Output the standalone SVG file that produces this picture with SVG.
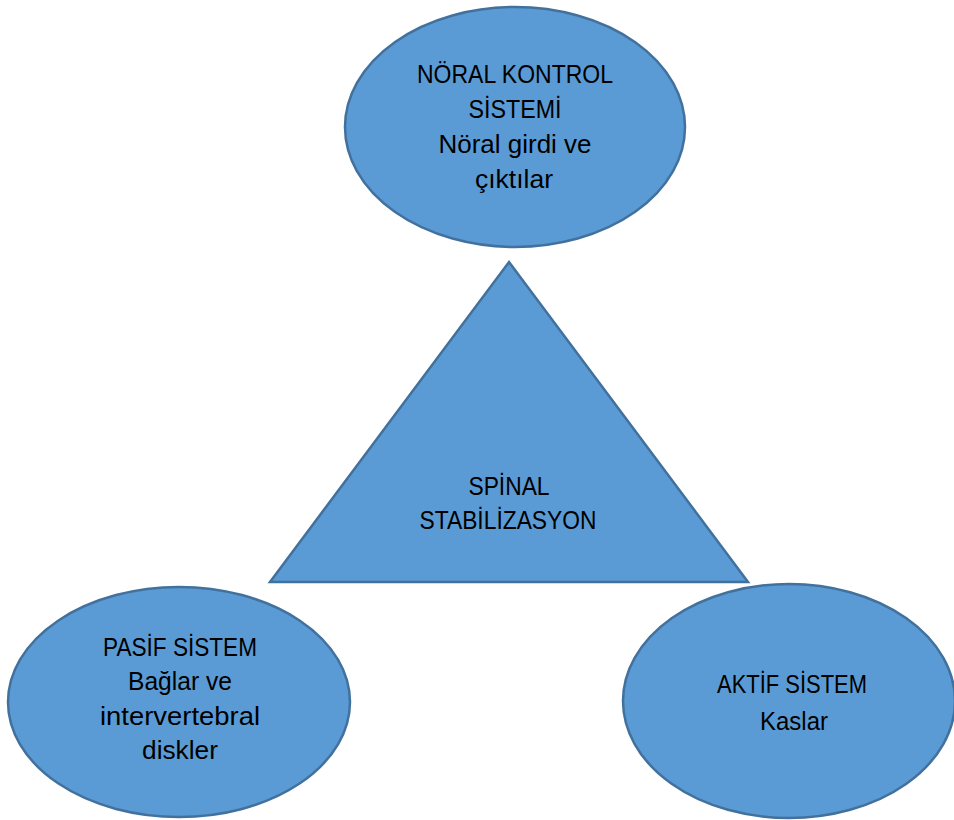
<svg xmlns="http://www.w3.org/2000/svg" width="954" height="820" viewBox="0 0 954 820">
<style>
.shape{fill:#5B9BD5;stroke:#41719C;stroke-width:2.5}
text{font-family:"Liberation Sans",Arial,sans-serif;font-size:25px;fill:#000;text-anchor:middle}
</style>
<rect width="954" height="820" fill="#fff"/>
<g id="connectors"></g>
<g id="noral">
<ellipse class="shape" cx="515" cy="127" rx="170" ry="120"/>
<text x="515" y="83" textLength="196" lengthAdjust="spacingAndGlyphs">NÖRAL KONTROL</text>
<text x="515" y="118" textLength="93" lengthAdjust="spacingAndGlyphs">SİSTEMİ</text>
<text x="515" y="153" textLength="153" lengthAdjust="spacingAndGlyphs">Nöral girdi ve</text>
<text x="514" y="188" textLength="78" lengthAdjust="spacingAndGlyphs">çıktılar</text>
</g>
<g id="spinal">
<polygon class="shape" points="509,262 748,582 270,582"/>
<text x="509" y="495" textLength="81" lengthAdjust="spacingAndGlyphs">SPİNAL</text>
<text x="508" y="529" textLength="177" lengthAdjust="spacingAndGlyphs">STABİLİZASYON</text>
</g>
<g id="pasif">
<ellipse class="shape" cx="179" cy="702" rx="171" ry="115"/>
<text x="180" y="656" textLength="154" lengthAdjust="spacingAndGlyphs">PASİF SİSTEM</text>
<text x="180" y="690" textLength="104" lengthAdjust="spacingAndGlyphs">Bağlar ve</text>
<text x="180" y="725" textLength="160" lengthAdjust="spacingAndGlyphs">intervertebral</text>
<text x="180" y="759" textLength="76" lengthAdjust="spacingAndGlyphs">diskler</text>
</g>
<g id="aktif">
<ellipse class="shape" cx="789" cy="701" rx="166" ry="117"/>
<text x="792" y="693" textLength="150" lengthAdjust="spacingAndGlyphs">AKTİF SİSTEM</text>
<text x="794" y="730" textLength="68" lengthAdjust="spacingAndGlyphs">Kaslar</text>
</g>
</svg>
